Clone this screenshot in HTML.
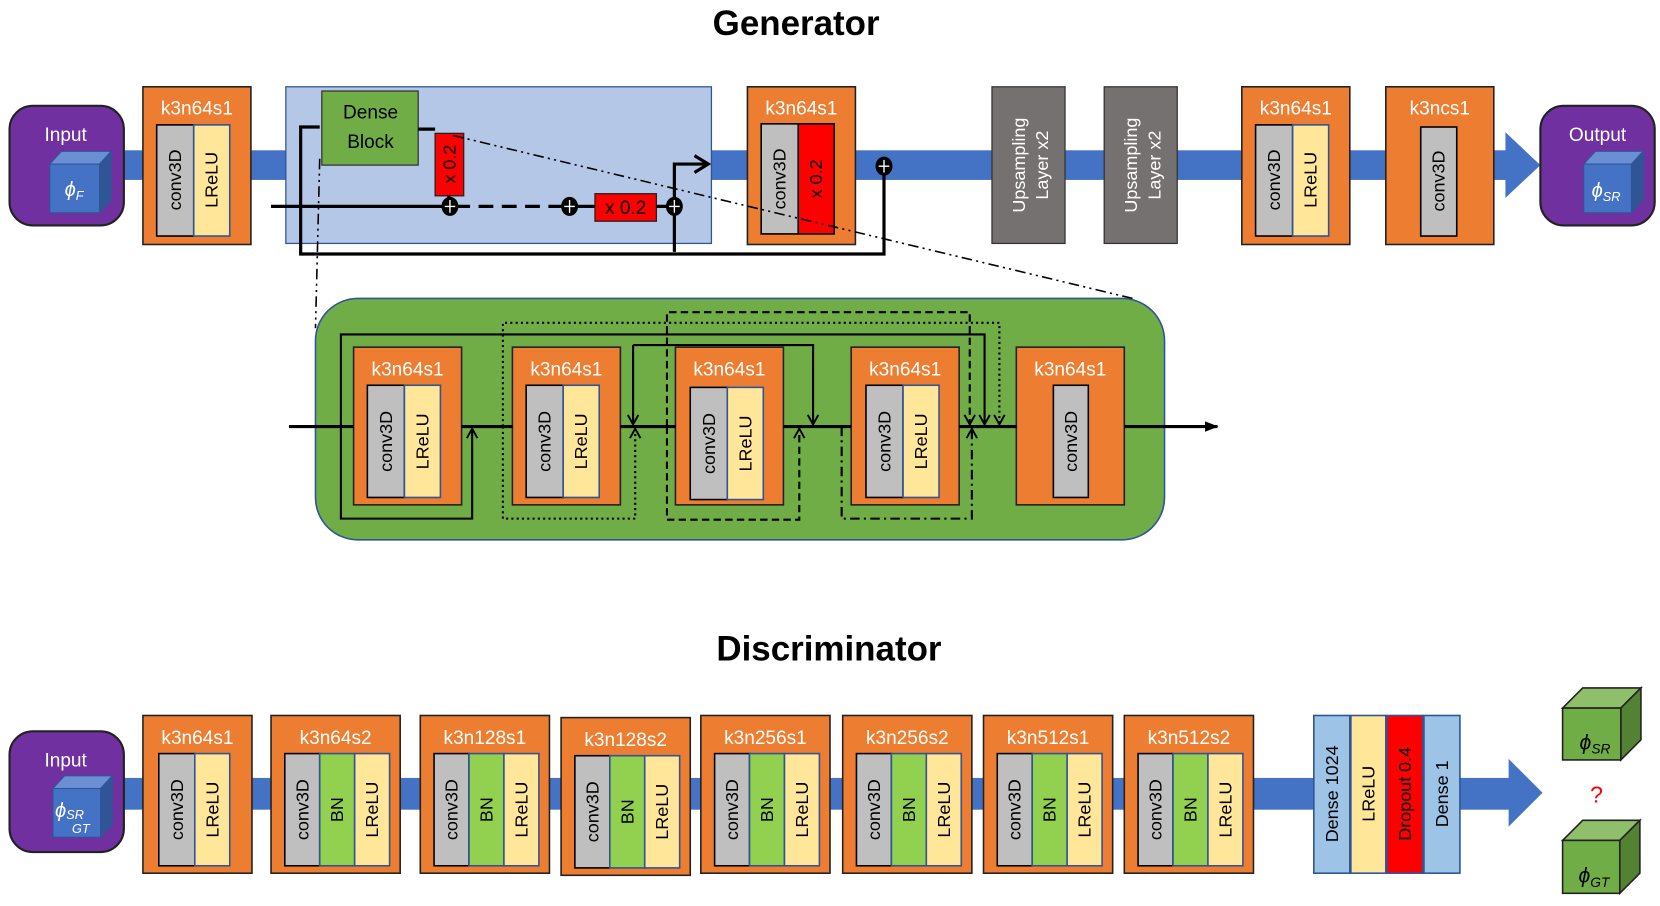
<!DOCTYPE html>
<html><head><meta charset="utf-8"><style>
html,body{margin:0;padding:0;background:#fff;width:1660px;height:906px;overflow:hidden}
svg{display:block}
text{font-family:"Liberation Sans",sans-serif}
.t{fill:#fff;font-size:18px;text-anchor:middle}
.r{font-size:17px;text-anchor:middle;dominant-baseline:central}
</style></head><body>
<svg width="1660" height="906" viewBox="0 0 1568 856" preserveAspectRatio="none" xmlns="http://www.w3.org/2000/svg">
<defs>
<marker id="ah" markerWidth="12" markerHeight="12" refX="10" refY="6" orient="auto" markerUnits="userSpaceOnUse"><path d="M1,1 L10,6 L1,11" fill="none" stroke="#000" stroke-width="1.8"/></marker>
<marker id="af" markerWidth="14" markerHeight="12" refX="12" refY="6" orient="auto" markerUnits="userSpaceOnUse"><path d="M0,1 L13,6 L0,11 Z" fill="#000"/></marker>
</defs>

<!-- Titles -->
<text x="752" y="33" font-size="33" font-weight="bold" text-anchor="middle">Generator</text>
<text x="783" y="624" font-size="33" font-weight="bold" text-anchor="middle">Discriminator</text>

<!-- ===== Generator band ===== -->
<rect x="110" y="142" width="1318" height="28" fill="#4472c4"/>
<path d="M1422,125 L1455,156 L1422,187 Z" fill="#4472c4"/>

<!-- Input -->
<rect x="9" y="100" width="108" height="113" rx="22" fill="#7030a0" stroke="#222" stroke-width="2"/>
<text x="62" y="133" class="t">Input</text>
<g stroke="#2f5597" stroke-width="1">
<path d="M47,155 L58,143 L105,143 L94,155 Z" fill="#6a8fd4"/>
<path d="M94,155 L105,143 L105,189 L94,201 Z" fill="#2f5597"/>
<rect x="47" y="155" width="47" height="46" fill="#4472c4"/>
</g>
<text x="70" y="185" fill="#fff" font-size="19" font-style="italic" text-anchor="middle" font-family="Liberation Serif">ϕ<tspan font-size="12" dy="4">F</tspan></text>

<!-- Gen box 1 -->
<rect x="135" y="82" width="102" height="149" fill="#ed7d31" stroke="#222" stroke-width="1.5"/>
<text x="186" y="108" class="t">k3n64s1</text>
<rect x="148" y="118" width="35" height="105" fill="#bfbfbf" stroke="#000" stroke-width="1.5"/>
<rect x="183" y="118" width="34" height="105" fill="#ffe699" stroke="#2f5597" stroke-width="1.5"/>
<text transform="translate(165.5,170) rotate(-90)" class="r">conv3D</text>
<text transform="translate(200,170) rotate(-90)" class="r">LReLU</text>

<!-- light blue container -->
<rect x="270" y="82" width="402" height="148" fill="#b4c7e7" stroke="#2f5597" stroke-width="1.2"/>
<rect x="304" y="86" width="91" height="70" fill="#70ad47" stroke="#333" stroke-width="1.2"/>
<text x="350" y="112" font-size="18" text-anchor="middle">Dense</text>
<text x="350" y="140" font-size="18" text-anchor="middle">Block</text>
<rect x="411" y="126" width="27" height="59" fill="#ff0000" stroke="#222" stroke-width="1.2"/>
<text transform="translate(424.5,155) rotate(-90)" class="r">x 0.2</text>
<rect x="562" y="183" width="58" height="26" fill="#ff0000" stroke="#222" stroke-width="1.2"/>
<text x="591" y="202" font-size="18" text-anchor="middle">x 0.2</text>
<!-- connectors -->
<g stroke="#000" stroke-width="3" fill="none">
<path d="M395,122 H411"/>
<path d="M256,195 H425"/>
<path d="M430,195 H540" stroke-dasharray="14,8"/>
<path d="M540,195 H562 M620,195 H640"/>
<path d="M302,120 H284 V240 H835 V160"/>
<path d="M637,238 V155 H666"/>
<path d="M424,185 V195"/>
</g>
<path d="M656,147 L669,155 L656,163" fill="none" stroke="#000" stroke-width="3"/>
<g fill="#000"><ellipse cx="425" cy="195" rx="8" ry="9"/><ellipse cx="538" cy="195" rx="8" ry="9"/><ellipse cx="637" cy="195" rx="8" ry="9"/><ellipse cx="835" cy="157" rx="8" ry="9"/></g>
<g stroke="#fff" stroke-width="1.3"><path d="M425,189 V201 M420,195 H430 M538,189 V201 M533,195 H543 M637,189 V201 M632,195 H642 M835,151 V163 M830,157 H840"/></g>

<!-- Gen box 2 -->
<rect x="706" y="82" width="102" height="149" fill="#ed7d31" stroke="#222" stroke-width="1.5"/>
<text x="757" y="108" class="t">k3n64s1</text>
<rect x="719" y="117" width="35" height="104" fill="#bfbfbf" stroke="#000" stroke-width="1.5"/>
<rect x="754" y="117" width="34" height="104" fill="#ff0000" stroke="#000" stroke-width="1.5"/>
<text transform="translate(736.5,169) rotate(-90)" class="r">conv3D</text>
<text transform="translate(771,169) rotate(-90)" class="r">x 0.2</text>

<!-- dash-dot zoom lines -->
<g stroke="#000" stroke-width="1.5" stroke-dasharray="10,4,2,4,2,4" fill="none">
<path d="M428,128 L1070,282"/>
<path d="M302,150 L298,310"/>
</g>

<!-- Upsampling -->
<rect x="937" y="82" width="69" height="148" fill="#767171" stroke="#333" stroke-width="1.2"/>
<text transform="translate(971,156) rotate(-90)" fill="#fff" font-size="17" text-anchor="middle"><tspan x="0" dy="-3">Upsampling</tspan><tspan x="0" dy="22">Layer x2</tspan></text>
<rect x="1043" y="82" width="69" height="148" fill="#767171" stroke="#333" stroke-width="1.2"/>
<text transform="translate(1077,156) rotate(-90)" fill="#fff" font-size="17" text-anchor="middle"><tspan x="0" dy="-3">Upsampling</tspan><tspan x="0" dy="22">Layer x2</tspan></text>

<!-- Gen box 3 -->
<rect x="1173" y="82" width="102" height="149" fill="#ed7d31" stroke="#222" stroke-width="1.5"/>
<text x="1224" y="108" class="t">k3n64s1</text>
<rect x="1186" y="118" width="35" height="105" fill="#bfbfbf" stroke="#000" stroke-width="1.5"/>
<rect x="1221" y="118" width="34" height="105" fill="#ffe699" stroke="#2f5597" stroke-width="1.5"/>
<text transform="translate(1203.5,170) rotate(-90)" class="r">conv3D</text>
<text transform="translate(1238,170) rotate(-90)" class="r">LReLU</text>

<!-- Gen box 4 -->
<rect x="1309" y="82" width="102" height="149" fill="#ed7d31" stroke="#222" stroke-width="1.5"/>
<text x="1360" y="108" class="t">k3ncs1</text>
<rect x="1342" y="120" width="34" height="103" fill="#bfbfbf" stroke="#000" stroke-width="1.5"/>
<text transform="translate(1359,171) rotate(-90)" class="r">conv3D</text>

<!-- Output -->
<rect x="1455" y="100" width="108" height="113" rx="22" fill="#7030a0" stroke="#222" stroke-width="2"/>
<text x="1509" y="133" class="t">Output</text>
<g stroke="#2f5597" stroke-width="1">
<path d="M1496,155 L1507,143 L1552,143 L1541,155 Z" fill="#6a8fd4"/>
<path d="M1541,155 L1552,143 L1552,189 L1541,201 Z" fill="#2f5597"/>
<rect x="1496" y="155" width="45" height="46" fill="#4472c4"/>
</g>
<text x="1517" y="186" fill="#fff" font-size="19" font-style="italic" text-anchor="middle" font-family="Liberation Serif">ϕ<tspan font-size="12" dy="4">SR</tspan></text>

<!-- ===== Dense block detail ===== -->
<rect x="298" y="282" width="802" height="228" rx="40" fill="#70ad47" stroke="#2f5597" stroke-width="1.5"/>
<g>
<rect x="334" y="328" width="102" height="149" fill="#ed7d31" stroke="#222" stroke-width="1.5"/>
<text x="385" y="355" class="t">k3n64s1</text>
<rect x="347" y="364" width="35" height="106" fill="#bfbfbf" stroke="#000" stroke-width="1.5"/>
<rect x="382" y="364" width="34" height="106" fill="#ffe699" stroke="#2f5597" stroke-width="1.5"/>
<text transform="translate(364.5,417) rotate(-90)" class="r">conv3D</text>
<text transform="translate(399,417) rotate(-90)" class="r">LReLU</text>

<rect x="484" y="328" width="102" height="149" fill="#ed7d31" stroke="#222" stroke-width="1.5"/>
<text x="535" y="355" class="t">k3n64s1</text>
<rect x="497" y="364" width="35" height="106" fill="#bfbfbf" stroke="#000" stroke-width="1.5"/>
<rect x="532" y="364" width="34" height="106" fill="#ffe699" stroke="#2f5597" stroke-width="1.5"/>
<text transform="translate(514.5,417) rotate(-90)" class="r">conv3D</text>
<text transform="translate(549,417) rotate(-90)" class="r">LReLU</text>

<rect x="638" y="328" width="102" height="149" fill="#ed7d31" stroke="#222" stroke-width="1.5"/>
<text x="689" y="355" class="t">k3n64s1</text>
<rect x="652" y="366" width="35" height="106" fill="#bfbfbf" stroke="#000" stroke-width="1.5"/>
<rect x="687" y="366" width="34" height="106" fill="#ffe699" stroke="#2f5597" stroke-width="1.5"/>
<text transform="translate(669.5,419) rotate(-90)" class="r">conv3D</text>
<text transform="translate(704,419) rotate(-90)" class="r">LReLU</text>

<rect x="804" y="328" width="102" height="149" fill="#ed7d31" stroke="#222" stroke-width="1.5"/>
<text x="855" y="355" class="t">k3n64s1</text>
<rect x="818" y="364" width="35" height="106" fill="#bfbfbf" stroke="#000" stroke-width="1.5"/>
<rect x="853" y="364" width="34" height="106" fill="#ffe699" stroke="#2f5597" stroke-width="1.5"/>
<text transform="translate(835.5,417) rotate(-90)" class="r">conv3D</text>
<text transform="translate(870,417) rotate(-90)" class="r">LReLU</text>

<rect x="960" y="328" width="102" height="149" fill="#ed7d31" stroke="#222" stroke-width="1.5"/>
<text x="1011" y="355" class="t">k3n64s1</text>
<rect x="995" y="364" width="33" height="106" fill="#bfbfbf" stroke="#000" stroke-width="1.5"/>
<text transform="translate(1011.5,417) rotate(-90)" class="r">conv3D</text>
</g>
<!-- main line segments -->
<g stroke="#000" stroke-width="3" fill="none">
<path d="M273,403 H334 M436,403 H484 M586,403 H638 M740,403 H804 M906,403 H960"/>
<path d="M1062,403 H1150" marker-end="url(#af)"/>
</g>
<g stroke="#000" stroke-width="2" fill="none">
<path d="M322,403 V316 H930 V401" marker-end="url(#ah)"/>
<path d="M322,403 V490 H446 V405" marker-end="url(#ah)"/>
<path d="M598,326 H768 V401" marker-end="url(#ah)"/>
<path d="M598,326 V401" marker-end="url(#ah)"/>
</g>
<g stroke="#000" stroke-width="2" fill="none" stroke-dasharray="2,3">
<path d="M475,403 V305 H944 V401" marker-end="url(#ah)"/>
<path d="M475,403 V490 H600 V405" marker-end="url(#ah)"/>
</g>
<g stroke="#000" stroke-width="2" fill="none" stroke-dasharray="7,4">
<path d="M630,403 V295 H916 V401" marker-end="url(#ah)"/>
<path d="M630,403 V491 H755 V405" marker-end="url(#ah)"/>
</g>
<g stroke="#000" stroke-width="2" fill="none" stroke-dasharray="9,4,2,4">
<path d="M795,403 V490 H918 V405" marker-end="url(#ah)"/>
</g>
<path d="M758,401 L758,392 M936,401" stroke="none"/>

<!-- ===== Discriminator ===== -->
<rect x="117" y="735" width="1310" height="30" fill="#4472c4"/>
<path d="M1425,717 L1457,749 L1425,781 Z" fill="#4472c4"/>

<rect x="9" y="691" width="108" height="114" rx="22" fill="#7030a0" stroke="#222" stroke-width="2"/>
<text x="62" y="724" class="t">Input</text>
<g stroke="#2f5597" stroke-width="1">
<path d="M50,745 L61,733 L106,733 L95,745 Z" fill="#6a8fd4"/>
<path d="M95,745 L106,733 L106,779 L95,791 Z" fill="#2f5597"/>
<rect x="50" y="745" width="45" height="46" fill="#4472c4"/>
</g>
<text x="52" y="772" fill="#fff" font-size="19" font-style="italic" font-family="Liberation Serif">ϕ<tspan font-size="12" dy="2">SR</tspan></text>
<text x="68" y="787" fill="#fff" font-size="12" font-style="italic" font-family="Liberation Serif">GT</text>

<rect x="135" y="676" width="103" height="149" fill="#ed7d31" stroke="#222" stroke-width="1.5"/>
<text x="186.5" y="703" class="t">k3n64s1</text>
<rect x="150" y="712" width="34" height="106" fill="#bfbfbf" stroke="#000" stroke-width="1.5"/>
<rect x="184" y="712" width="33" height="106" fill="#ffe699" stroke="#2f5597" stroke-width="1.5"/>
<text transform="translate(167,765) rotate(-90)" class="r">conv3D</text>
<text transform="translate(200.5,765) rotate(-90)" class="r">LReLU</text>

<g id="d2">
<rect x="256" y="676" width="122" height="149" fill="#ed7d31" stroke="#222" stroke-width="1.5"/>
<text x="317" y="703" class="t">k3n64s2</text>
<rect x="269" y="712" width="33" height="106" fill="#bfbfbf" stroke="#000" stroke-width="1.5"/>
<rect x="302" y="712" width="33" height="106" fill="#92d050" stroke="#2f5597" stroke-width="1.5"/>
<rect x="335" y="712" width="33" height="106" fill="#ffe699" stroke="#2f5597" stroke-width="1.5"/>
<text transform="translate(285.5,765) rotate(-90)" class="r">conv3D</text>
<text transform="translate(318.5,765) rotate(-90)" class="r">BN</text>
<text transform="translate(351.5,765) rotate(-90)" class="r">LReLU</text>
</g>
<g transform="translate(141,0)">
<rect x="256" y="676" width="122" height="149" fill="#ed7d31" stroke="#222" stroke-width="1.5"/>
<text x="317" y="703" class="t">k3n128s1</text>
<rect x="269" y="712" width="33" height="106" fill="#bfbfbf" stroke="#000" stroke-width="1.5"/>
<rect x="302" y="712" width="33" height="106" fill="#92d050" stroke="#2f5597" stroke-width="1.5"/>
<rect x="335" y="712" width="33" height="106" fill="#ffe699" stroke="#2f5597" stroke-width="1.5"/>
<text transform="translate(285.5,765) rotate(-90)" class="r">conv3D</text>
<text transform="translate(318.5,765) rotate(-90)" class="r">BN</text>
<text transform="translate(351.5,765) rotate(-90)" class="r">LReLU</text>
</g>
<g transform="translate(274,2)">
<rect x="256" y="676" width="122" height="149" fill="#ed7d31" stroke="#222" stroke-width="1.5"/>
<text x="317" y="703" class="t">k3n128s2</text>
<rect x="269" y="712" width="33" height="106" fill="#bfbfbf" stroke="#000" stroke-width="1.5"/>
<rect x="302" y="712" width="33" height="106" fill="#92d050" stroke="#2f5597" stroke-width="1.5"/>
<rect x="335" y="712" width="33" height="106" fill="#ffe699" stroke="#2f5597" stroke-width="1.5"/>
<text transform="translate(285.5,765) rotate(-90)" class="r">conv3D</text>
<text transform="translate(318.5,765) rotate(-90)" class="r">BN</text>
<text transform="translate(351.5,765) rotate(-90)" class="r">LReLU</text>
</g>
<g transform="translate(406,0)">
<rect x="256" y="676" width="122" height="149" fill="#ed7d31" stroke="#222" stroke-width="1.5"/>
<text x="317" y="703" class="t">k3n256s1</text>
<rect x="269" y="712" width="33" height="106" fill="#bfbfbf" stroke="#000" stroke-width="1.5"/>
<rect x="302" y="712" width="33" height="106" fill="#92d050" stroke="#2f5597" stroke-width="1.5"/>
<rect x="335" y="712" width="33" height="106" fill="#ffe699" stroke="#2f5597" stroke-width="1.5"/>
<text transform="translate(285.5,765) rotate(-90)" class="r">conv3D</text>
<text transform="translate(318.5,765) rotate(-90)" class="r">BN</text>
<text transform="translate(351.5,765) rotate(-90)" class="r">LReLU</text>
</g>
<g transform="translate(540,0)">
<rect x="256" y="676" width="122" height="149" fill="#ed7d31" stroke="#222" stroke-width="1.5"/>
<text x="317" y="703" class="t">k3n256s2</text>
<rect x="269" y="712" width="33" height="106" fill="#bfbfbf" stroke="#000" stroke-width="1.5"/>
<rect x="302" y="712" width="33" height="106" fill="#92d050" stroke="#2f5597" stroke-width="1.5"/>
<rect x="335" y="712" width="33" height="106" fill="#ffe699" stroke="#2f5597" stroke-width="1.5"/>
<text transform="translate(285.5,765) rotate(-90)" class="r">conv3D</text>
<text transform="translate(318.5,765) rotate(-90)" class="r">BN</text>
<text transform="translate(351.5,765) rotate(-90)" class="r">LReLU</text>
</g>
<g transform="translate(673,0)">
<rect x="256" y="676" width="122" height="149" fill="#ed7d31" stroke="#222" stroke-width="1.5"/>
<text x="317" y="703" class="t">k3n512s1</text>
<rect x="269" y="712" width="33" height="106" fill="#bfbfbf" stroke="#000" stroke-width="1.5"/>
<rect x="302" y="712" width="33" height="106" fill="#92d050" stroke="#2f5597" stroke-width="1.5"/>
<rect x="335" y="712" width="33" height="106" fill="#ffe699" stroke="#2f5597" stroke-width="1.5"/>
<text transform="translate(285.5,765) rotate(-90)" class="r">conv3D</text>
<text transform="translate(318.5,765) rotate(-90)" class="r">BN</text>
<text transform="translate(351.5,765) rotate(-90)" class="r">LReLU</text>
</g>
<g transform="translate(806,0)">
<rect x="256" y="676" width="122" height="149" fill="#ed7d31" stroke="#222" stroke-width="1.5"/>
<text x="317" y="703" class="t">k3n512s2</text>
<rect x="269" y="712" width="33" height="106" fill="#bfbfbf" stroke="#000" stroke-width="1.5"/>
<rect x="302" y="712" width="33" height="106" fill="#92d050" stroke="#2f5597" stroke-width="1.5"/>
<rect x="335" y="712" width="33" height="106" fill="#ffe699" stroke="#2f5597" stroke-width="1.5"/>
<text transform="translate(285.5,765) rotate(-90)" class="r">conv3D</text>
<text transform="translate(318.5,765) rotate(-90)" class="r">BN</text>
<text transform="translate(351.5,765) rotate(-90)" class="r">LReLU</text>
</g>

<!-- Dense head -->
<rect x="1241" y="676" width="34" height="149" fill="#9dc3e6" stroke="#2f5597" stroke-width="1.5"/>
<rect x="1276" y="676" width="33" height="149" fill="#ffe699" stroke="#2f5597" stroke-width="1.5"/>
<rect x="1310" y="676" width="34" height="149" fill="#ff0000" stroke="#2f5597" stroke-width="1.5"/>
<rect x="1345" y="676" width="34" height="149" fill="#9dc3e6" stroke="#2f5597" stroke-width="1.5"/>
<text transform="translate(1258,750) rotate(-90)" class="r" font-size="18">Dense 1024</text>
<text transform="translate(1292.5,750) rotate(-90)" class="r" font-size="18">LReLU</text>
<text transform="translate(1327,750) rotate(-90)" class="r" font-size="18">Dropout 0.4</text>
<text transform="translate(1362,750) rotate(-90)" class="r" font-size="18">Dense 1</text>

<!-- cubes -->
<g stroke="#222" stroke-width="1.5">
<path d="M1476,669 L1495,650 L1550,650 L1531,669 Z" fill="#8fbf6a"/>
<path d="M1531,669 L1550,650 L1550,699 L1531,718 Z" fill="#548235"/>
<rect x="1476" y="669" width="55" height="49" fill="#70ad47"/>
<path d="M1476,794 L1495,775 L1549,775 L1530,794 Z" fill="#8fbf6a"/>
<path d="M1530,794 L1549,775 L1549,825 L1530,844 Z" fill="#548235"/>
<rect x="1476" y="794" width="54" height="50" fill="#70ad47"/>
</g>
<text x="1492" y="708" font-size="20" font-style="italic" font-family="Liberation Serif">ϕ<tspan font-size="13" dy="4">SR</tspan></text>
<text x="1491" y="834" font-size="20" font-style="italic" font-family="Liberation Serif">ϕ<tspan font-size="13" dy="4">GT</tspan></text>
<text x="1508" y="758" font-size="22" fill="#ff0000" text-anchor="middle" font-family="Liberation Serif">?</text>
</svg>
</body></html>
